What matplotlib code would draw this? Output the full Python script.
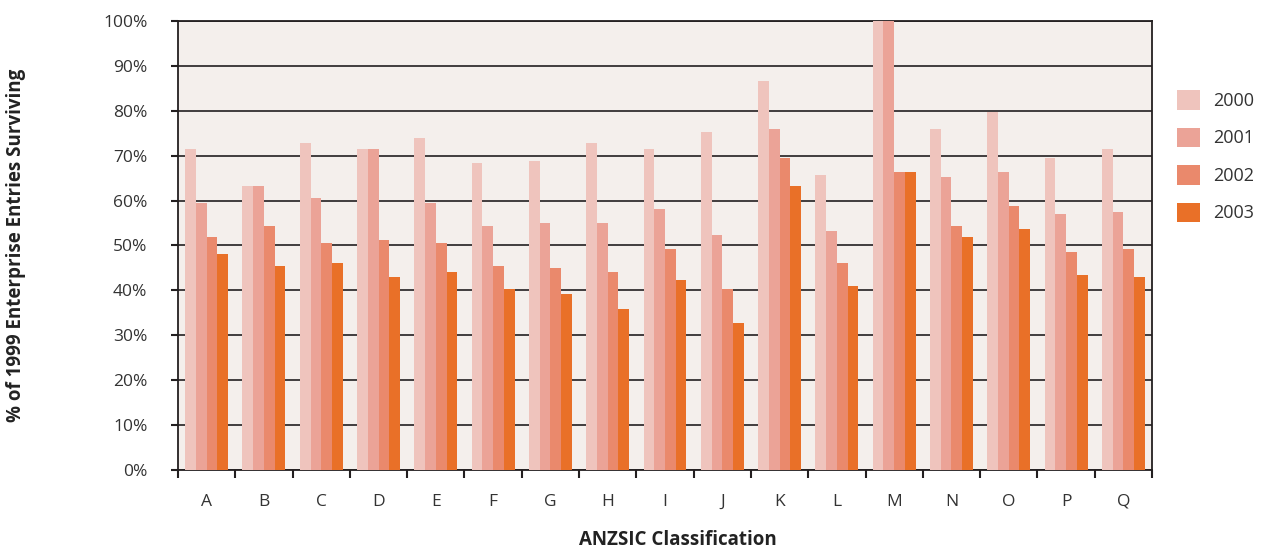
import numpy as np
import matplotlib.pyplot as plt
from matplotlib.ticker import FuncFormatter, FixedLocator

plt.rcParams['font.family'] = ['Open Sans', 'DejaVu Sans']

categories = ['A', 'B', 'C', 'D', 'E', 'F', 'G', 'H', 'I', 'J', 'K', 'L', 'M', 'N', 'O', 'P', 'Q']
years = ['2000', '2001', '2002', '2003']

surv_2000 = [71.5, 63.3, 72.8, 71.5, 73.9, 68.4, 68.8, 72.8, 71.5, 75.3, 86.6, 65.7, 100.0, 75.9, 79.7, 69.5, 71.5]
surv_2001 = [59.5, 63.3, 60.6, 71.5, 59.5, 54.3, 55.0, 55.0, 58.1, 52.3, 75.9, 53.2, 100.0, 65.3, 66.4, 57.0, 57.5]
surv_2002 = [51.9, 54.3, 50.6, 51.2, 50.6, 45.4, 45.0, 44.1, 49.2, 40.3, 69.5, 46.1, 66.4, 54.3, 58.8, 48.6, 49.2]
surv_2003 = [48.1, 45.4, 46.1, 43.0, 44.1, 40.3, 39.2, 35.9, 42.3, 32.7, 63.3, 41.0, 66.4, 51.9, 53.7, 43.4, 43.0]

colors = ['#efc4bd', '#eba397', '#ea896c', '#e97028']
dark = '#231f20'

fig = plt.figure(figsize=(12.68, 5.52), dpi=100)
ax = fig.add_axes([0.1404, 0.1486, 0.7681, 0.8134])
ax.set_facecolor('#f4efec')

x = np.arange(len(categories))
w = 0.1875
series = [surv_2000, surv_2001, surv_2002, surv_2003]
for i, vals in enumerate(series):
    ax.bar(x + (i - 1.5) * w, vals, w, color=colors[i], label=years[i], zorder=3, linewidth=0)

ax.set_xlim(-0.5, len(categories) - 0.5)
ax.set_ylim(0, 100)

# horizontal grid behind the bars
ax.set_yticks(np.arange(0, 101, 10))
ax.yaxis.set_major_formatter(FuncFormatter(lambda v, p: '%d%%' % v))
ax.grid(axis='y', color=dark, linewidth=1.2, zorder=1)
ax.set_axisbelow(True)

# category labels centred, ticks on group boundaries
ax.set_xticks(x)
ax.set_xticklabels(categories)
ax.xaxis.set_minor_locator(FixedLocator(np.arange(-0.5, len(categories), 1.0)))
ax.tick_params(axis='x', which='major', length=0, pad=17, labelsize=12.5, labelcolor='#333333')
ax.tick_params(axis='x', which='minor', length=6, width=1.5, color=dark, direction='out')
ax.tick_params(axis='y', length=5, width=1.5, color=dark, pad=17, labelsize=12.5, labelcolor='#333333')

for s in ax.spines.values():
    s.set_color(dark)
    s.set_linewidth(1.3)

ax.set_ylabel('% of 1999 Enterprise Entries Surviving', fontsize=13.5, fontweight='bold',
              color='#222222', labelpad=0)
ax.yaxis.set_label_coords(-0.156, 0.5)
ax.set_xlabel('ANZSIC Classification', fontsize=13.5, fontweight='bold', color='#222222')
ax.xaxis.set_label_coords(0.513, -0.133)

fig.legend(loc='upper left', bbox_to_anchor=(0.9156, 0.866), frameon=False, fontsize=13,
           handlelength=1.28, handleheight=1.28, labelspacing=0.98, handletextpad=0.7,
           labelcolor='#333333')

fig.savefig('out.png', dpi=100)
